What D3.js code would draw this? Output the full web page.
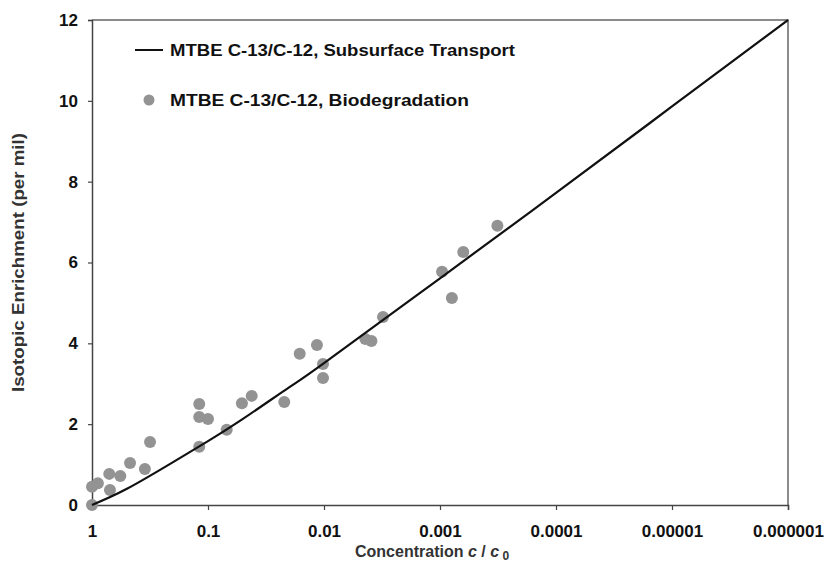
<!DOCTYPE html>
<meta charset="utf-8">
<style>
body { margin: 0; background: #fff; }
text { font-family: Arial, "Liberation Sans", sans-serif; font-weight: bold; }
</style>
<svg id="mysvg" width="826" height="562"></svg>
<script src="https://cdn.jsdelivr.net/npm/d3@7"></script>
<script>

// transport curve
var curveConc = [1, 0.5, 0.2, 0.1, 0.05, 0.02, 0.01, 0.001, 0.0001, 0.00001, 0.000001];
var curveEnrich = [0, 0.4, 1.06, 1.58, 2.13, 2.91, 3.51, 5.61, 7.72, 9.86, 12];

// biodegradation observations
var obsConc = [1, 1, 0.89, 0.7, 0.71, 0.57, 0.47, 0.35, 0.316, 0.119, 0.119, 0.1, 0.119, 0.069,
	0.051, 0.042, 0.022, 0.0162, 0.0115, 0.0102, 0.0102, 0.0044, 0.0039, 0.0031,
	0.00096, 0.00079, 0.00063, 0.00032];
var obsEnrich = [0, 0.45, 0.54, 0.37, 0.77, 0.72, 1.04, 0.89, 1.56, 2.50, 2.18, 2.13, 1.44, 1.86,
	2.52, 2.70, 2.55, 3.74, 3.96, 3.49, 3.14, 4.11, 4.06, 4.65,
	5.77, 5.12, 6.26, 6.91];

var xTicks = [1, 0.1, 0.01, 0.001, 0.0001, 0.00001, 0.000001];
var xTickLabels = ["1", "0.1", "0.01", "0.001", "0.0001", "0.00001", "0.000001"];
var yTicks = [0, 2, 4, 6, 8, 10, 12];

var legendLabels = ["MTBE C-13/C-12, Subsurface Transport", "MTBE C-13/C-12, Biodegradation"];

var svg = d3.select("#mysvg");
var plotL = 92, plotR = 788, plotT = 20, plotB = 505;

var x = d3.scaleLog()
	.domain([1, 0.000001])
	.range([plotL, plotR]);

var y = d3.scaleLinear()
	.domain([0, 12])
	.range([plotB, plotT]);

// frame top & right
svg.append("path")
	.attr("d", "M" + plotL + "," + plotT + "H" + plotR + "V" + plotB)
	.attr("fill", "none")
	.attr("stroke", "#666")
	.attr("stroke-width", 1.5);

var xAxis = svg.append("g")
	.attr("transform", "translate(0," + plotB + ")")
	.call(d3.axisBottom(x).tickValues(xTicks).tickSize(5)
		.tickFormat(function(d, i){ return xTickLabels[i]; }));

var yAxis = svg.append("g")
	.attr("transform", "translate(" + plotL + ",0)")
	.call(d3.axisLeft(y).tickValues(yTicks).tickSize(4).tickPadding(10));

[xAxis, yAxis].forEach(function(a){
	a.select(".domain").attr("stroke", "#444").attr("stroke-width", 1.5);
	a.selectAll(".tick line").attr("stroke", "#444").attr("stroke-width", 1.2);
	a.selectAll("text").attr("font-size", 17).attr("fill", "#111")
		.attr("font-family", "Arial, 'Liberation Sans', sans-serif").attr("font-weight", "bold");
});
xAxis.selectAll(".tick text").attr("y", 32).attr("dy", 0);

// observations
svg.selectAll("circle.obs")
	.data(obsConc)
	.enter().append("circle")
	.attr("class", "obs")
	.attr("cx", function(d){ return x(d); })
	.attr("cy", function(d, i){ return y(obsEnrich[i]); })
	.attr("r", 6)
	.attr("fill", "#939393");

// transport curve
var line = d3.line()
	.x(function(d){ return x(d); })
	.y(function(d, i){ return y(curveEnrich[i]); })
	.curve(d3.curveNatural);

svg.append("path")
	.datum(curveConc)
	.attr("d", line)
	.attr("fill", "none")
	.attr("stroke", "#111")
	.attr("stroke-width", 2.2);

// legend
var leg = svg.append("g");
leg.append("line")
	.attr("x1", 135).attr("x2", 163)
	.attr("y1", 50).attr("y2", 50)
	.attr("stroke", "#111").attr("stroke-width", 2);
leg.append("circle")
	.attr("cx", 149).attr("cy", 100).attr("r", 5.5)
	.attr("fill", "#939393");
leg.selectAll("text")
	.data(legendLabels)
	.enter().append("text")
	.attr("x", 170)
	.attr("y", function(d, i){ return 50 + i * 50; })
	.attr("dy", "0.36em")
	.attr("font-size", 17)
	.attr("textLength", function(d, i){ return i == 0 ? 345 : 299; })
	.attr("lengthAdjust", "spacingAndGlyphs")
	.attr("fill", "#111")
	.text(function(d){ return d; });

// axis titles
var xt = svg.append("text")
	.attr("x", 355)
	.attr("y", 557)
	.attr("font-size", 16)
	.attr("fill", "#333");
xt.append("tspan").text("Concentration ");
xt.append("tspan").attr("font-style", "italic").text("c");
xt.append("tspan").text(" / ");
xt.append("tspan").attr("font-style", "italic").text("c");
xt.append("tspan").attr("font-size", 12).attr("dy", 3).text(" 0");

svg.append("text")
	.attr("transform", "translate(24," + ((plotT + plotB) / 2) + ") rotate(-90)")
	.attr("text-anchor", "middle")
	.attr("font-size", 17)
	.attr("textLength", 259)
	.attr("lengthAdjust", "spacingAndGlyphs")
	.attr("fill", "#333")
	.text("Isotopic Enrichment (per mil)");

</script>
